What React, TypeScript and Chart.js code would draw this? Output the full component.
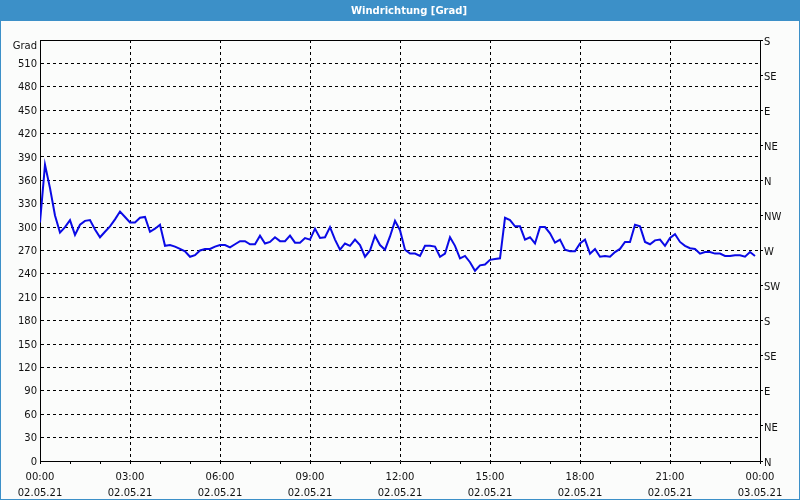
import React, { useEffect, useRef } from "react";
import { Chart, registerables } from "chart.js";

Chart.register(...registerables);

const TITLE = "Windrichtung [Grad]";
const Y_UNIT = "Grad";

// sample interval (minutes) of the series
const STEP_MIN = 10;

// wind direction values in degrees, one every 10 minutes from 00:00
const direction: number[] = [
  306, 380, 350, 315, 293, 300, 309, 290, 303, 308,
  309, 297, 287, 294, 301, 310, 320, 313, 306, 306,
  312, 313, 294, 298, 303, 276, 277, 275, 272, 269,
  262, 264, 270, 272, 272, 275, 277, 277, 274, 278,
  282, 282, 278, 278, 289, 279, 281, 287, 282, 282,
  289, 280, 280, 286, 284, 298, 286, 287, 300, 284,
  271, 279, 276, 284, 277, 262, 270, 289, 277, 271,
  288, 308, 296, 271, 266, 266, 263, 276, 276, 275,
  262, 266, 287, 276, 260, 263, 255, 244, 251, 252,
  258, 259, 260, 312, 309, 301, 301, 284, 287, 279,
  300, 300, 292, 280, 284, 271, 269, 269, 279, 284,
  266, 272, 262, 263, 262, 268, 272, 281, 281, 303,
  301, 281, 278, 283, 284, 276, 286, 291, 281, 276,
  273, 272, 266, 268, 268, 266, 266, 263, 263, 264,
  264, 262, 268, 263,
];

const xTimeLabels = ["00:00", "03:00", "06:00", "09:00", "12:00", "15:00", "18:00", "21:00", "00:00"];
const xDateLabels = ["02.05.21", "02.05.21", "02.05.21", "02.05.21", "02.05.21", "02.05.21", "02.05.21", "02.05.21", "03.05.21"];

const compassValues = [0, 45, 90, 135, 180, 225, 270, 315, 360, 405, 450, 495, 540];
const compassLabels = ["N", "NE", "E", "SE", "S", "SW", "W", "NW", "N", "NE", "E", "SE", "S"];

const FONT = '"DejaVu Sans", Tahoma, sans-serif';
const BLUE = "#3c90c8";

const framePlugin = {
  id: "frame",
  beforeDraw(chart: any) {
    const { ctx, width, height } = chart;
    ctx.save();
    ctx.fillStyle = "#fbfcfb";
    ctx.fillRect(0, 0, width, height);
    ctx.fillStyle = BLUE;
    ctx.fillRect(0, 0, width, 21);
    ctx.fillRect(0, 0, 1, height);
    ctx.fillRect(width - 1, 0, 1, height);
    ctx.fillRect(0, height - 1, width, 1);
    ctx.fillStyle = "#ffffff";
    ctx.font = `bold 10px ${FONT}`;
    ctx.textAlign = "center";
    ctx.textBaseline = "middle";
    ctx.fillText(TITLE, 409, 11);
    ctx.restore();
  },
  afterDraw(chart: any) {
    const { ctx, chartArea } = chart;
    ctx.save();
    ctx.strokeStyle = "#000";
    ctx.lineWidth = 1;
    ctx.beginPath();
    ctx.moveTo(Math.round(chartArea.left) + 0.5, Math.round(chartArea.top) + 0.5);
    ctx.lineTo(Math.round(chartArea.right) + 0.5, Math.round(chartArea.top) + 0.5);
    ctx.stroke();
    // unit label above the left axis
    ctx.fillStyle = "#111";
    ctx.font = `10px ${FONT}`;
    ctx.textAlign = "right";
    ctx.textBaseline = "middle";
    ctx.fillText(Y_UNIT, chartArea.left - 3, chartArea.top + 6);
    ctx.restore();
  },
};

export default function App() {
  const ref = useRef<HTMLCanvasElement | null>(null);

  useEffect(() => {
    if (!ref.current) return;
    const data = direction.map((v, i) => ({ x: i * STEP_MIN, y: v }));
    const chart = new Chart(ref.current, {
      type: "line",
      data: {
        datasets: [
          {
            data,
            borderColor: "#0a0ae6",
            borderWidth: 2,
            pointRadius: 0,
            tension: 0,
            fill: false,
          },
        ],
      },
      options: {
        responsive: false,
        animation: false,
        layout: { padding: { top: 40, left: 0, right: 0, bottom: 0 } },
        plugins: {
          legend: { display: false },
          tooltip: { enabled: false },
          title: { display: false },
        },
        scales: {
          x: {
            type: "linear",
            min: 0,
            max: 1440,
            afterFit: (s: any) => {
              s.height = 39;
            },
            ticks: {
              stepSize: 60,
              autoSkip: false,
              maxRotation: 0,
              minRotation: 0,
              padding: 5,
              color: "#111",
              font: { family: FONT, size: 10, lineHeight: 1.6 },
              callback: (v: any) => {
                const n = Number(v);
                if (n % 180 !== 0) return "";
                const k = n / 180;
                return [xTimeLabels[k], xDateLabels[k]];
              },
            },
            grid: {
              color: (c: any) => (c.tick && c.tick.value % 180 === 0 ? "#000" : "rgba(0,0,0,0)"),
              tickColor: "#000",
              tickLength: 3,
              lineWidth: 1,
            },
            border: { display: true, color: "#000", width: 1, dash: [3, 3] },
          },
          y: {
            position: "left",
            min: 0,
            max: 540,
            afterFit: (s: any) => {
              s.width = 40;
            },
            ticks: {
              stepSize: 30,
              padding: 3,
              labelOffset: 1,
              color: "#111",
              font: { family: FONT, size: 10 },
              callback: (v: any) => (Number(v) === 540 ? "" : String(v)),
            },
            grid: {
              color: "#000",
              lineWidth: 1,
              drawTicks: false,
            },
            border: { display: true, color: "#000", width: 1, dash: [3, 3] },
          },
          y2: {
            position: "right",
            min: 0,
            max: 540,
            afterFit: (s: any) => {
              s.width = 40;
            },
            afterBuildTicks: (s: any) => {
              s.ticks = compassValues.map((v) => ({ value: v }));
            },
            ticks: {
              padding: 1,
              labelOffset: 2,
              color: "#111",
              font: { family: FONT, size: 10 },
              callback: (v: any) => {
                const k = compassValues.indexOf(Number(v));
                return k >= 0 ? compassLabels[k] : "";
              },
            },
            grid: {
              drawOnChartArea: false,
              tickColor: "#000",
              tickLength: 3,
            },
            border: { display: true, color: "#000", width: 1 },
          },
        },
      },
      plugins: [framePlugin],
    } as any);
    return () => chart.destroy();
  }, []);

  return (
    <div style={{ position: "absolute", left: 0, top: 0, width: 800, height: 500 }}>
      <canvas ref={ref} width={800} height={500} style={{ display: "block" }} />
    </div>
  );
}
